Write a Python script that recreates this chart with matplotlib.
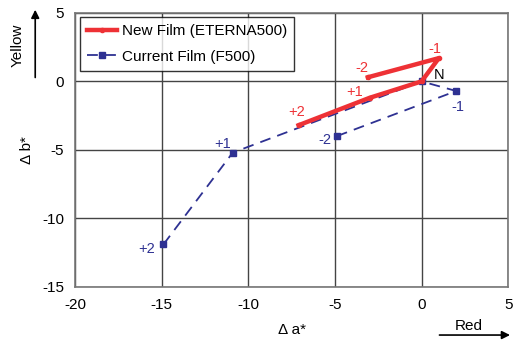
import matplotlib
matplotlib.use("Agg")
import matplotlib.pyplot as plt
from matplotlib.patches import FancyArrowPatch

plt.rcParams["font.family"] = ["Liberation Sans", "DejaVu Sans"]
plt.rcParams["axes.unicode_minus"] = False

# New Film (ETERNA500): order -2, -1, N, +1, +2
new_a = [-3.1, 1.0, 0.0, -3.0, -7.1]
new_b = [0.3, 1.7, 0.0, -1.2, -3.2]
new_lbl = ["-2", "-1", "", "+1", "+2"]

# Current Film (F500): order +2, +1, N, -1, -2
cur_a = [-14.9, -10.9, 0.0, 2.0, -4.9]
cur_b = [-11.9, -5.2, 0.0, -0.7, -4.0]
cur_lbl = ["+2", "+1", "", "-1", "-2"]

RED = "#ee3135"
BLUE = "#2e3192"

fig = plt.figure(figsize=(5.18, 3.49), dpi=100)
ax = fig.add_axes([0.145, 0.178, 0.836, 0.785])

ax.plot(new_a, new_b, color=RED, lw=3.2, marker="o", ms=3,
        label="New Film (ETERNA500)", zorder=4)
ax.plot(cur_a, cur_b, color=BLUE, lw=1.3, ls=(0, (6, 4)), marker="s", ms=4,
        label="Current Film (F500)", zorder=3)

# point labels (offsets from their points)
new_off = [(-0.35, 0.65), (-0.25, 0.7), None, (-0.85, 0.4), (-0.1, 0.95)]
cur_off = [(-1.0, -0.3), (-0.6, 0.6), None, (0.1, -1.2), (-0.7, -0.3)]
for a, b, t, o in zip(new_a, new_b, new_lbl, new_off):
    if o:
        ax.text(a + o[0], b + o[1], t, color=RED, fontsize=10.5, ha="center", va="center")
for a, b, t, o in zip(cur_a, cur_b, cur_lbl, cur_off):
    if o:
        ax.text(a + o[0], b + o[1], t, color=BLUE, fontsize=10.5, ha="center", va="center")
ax.text(1.0, 0.45, "N", color="black", fontsize=10.5, ha="center", va="center")

ax.set_xlim(-20, 5)
ax.set_ylim(-15, 5)
ax.set_xticks(range(-20, 6, 5))
ax.set_yticks(range(-15, 6, 5))
ax.grid(True, color="#444444", lw=1.0)
ax.set_axisbelow(True)
ax.tick_params(length=0, labelsize=11, pad=8)
for s in ax.spines.values():
    s.set_color("#777777")
    s.set_linewidth(1.2)

ax.set_xlabel("Δ a*", fontsize=11, labelpad=8)
ax.set_ylabel("Δ b*", fontsize=11, labelpad=6)

leg = ax.legend(loc="upper left", fontsize=11, frameon=True, fancybox=False,
                edgecolor="black", borderaxespad=0.3, handlelength=2.0,
                handletextpad=0.3, labelspacing=0.75, borderpad=0.45)
leg.get_frame().set_linewidth(1.0)

# direction arrows
fig.text(0.035, 0.87, "Yellow", rotation=90, fontsize=11, ha="center", va="center")
fig.patches.append(FancyArrowPatch(
    (0.068, 0.77), (0.068, 0.98), transform=fig.transFigure, figure=fig,
    arrowstyle="-|>", mutation_scale=12, color="black", lw=1.2))
fig.text(0.905, 0.065, "Red", fontsize=11, ha="center", va="center")
fig.patches.append(FancyArrowPatch(
    (0.843, 0.04), (0.99, 0.04), transform=fig.transFigure, figure=fig,
    arrowstyle="-|>", mutation_scale=12, color="black", lw=1.2))

fig.savefig("out.png", dpi=100)
